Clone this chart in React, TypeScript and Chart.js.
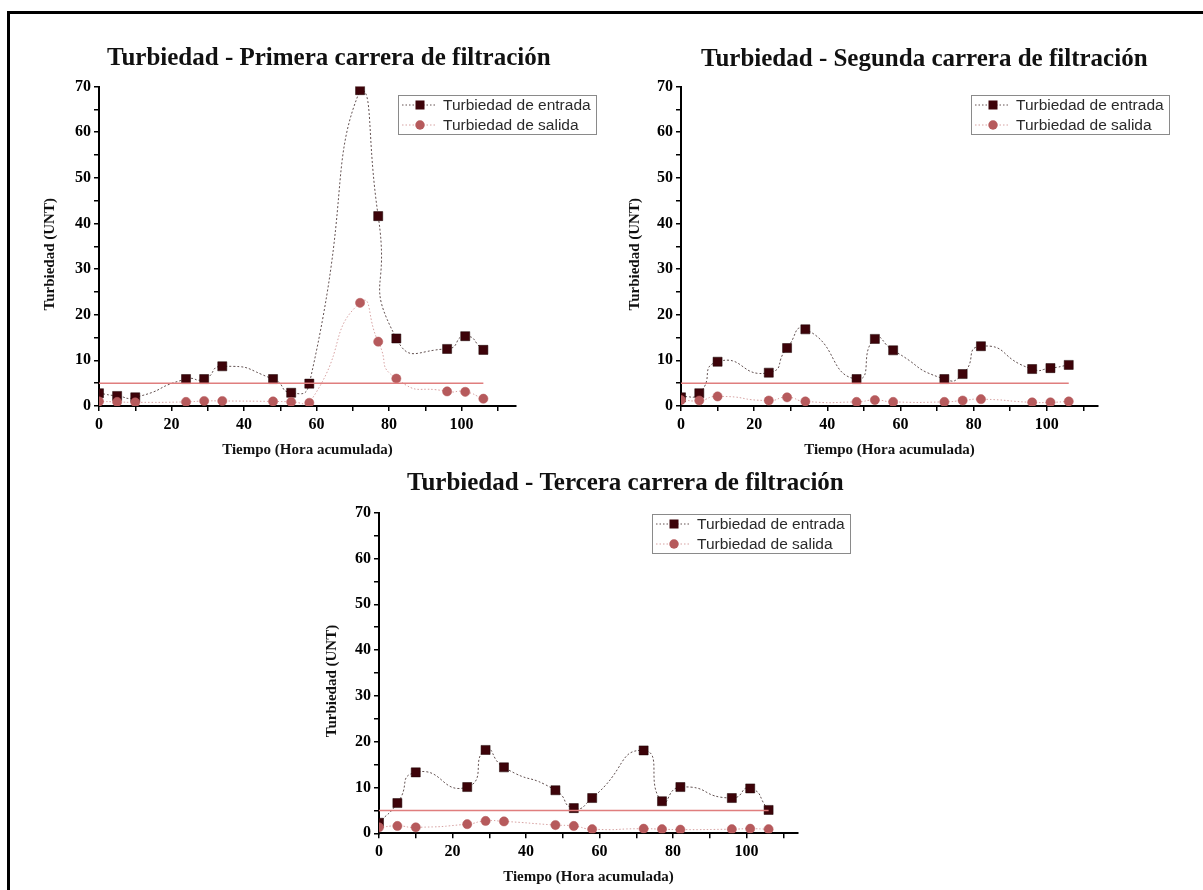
import React, { useEffect, useRef } from "react";
import { Chart, registerables } from "chart.js";

Chart.register(...registerables);

// ---- data ----
const hours = [0, 5, 10, 24, 29, 34, 48, 53, 58, 72, 77, 82, 96, 101, 106];

const run1Entrada = [2.8, 2.2, 1.9, 5.9, 5.9, 8.7, 5.9, 2.9, 4.9, 69.2, 41.6, 14.8, 12.5, 15.3, 12.3];
const run1Salida = [1.0, 0.9, 0.8, 0.9, 1.1, 1.1, 1.0, 0.9, 0.7, 22.6, 14.1, 6.0, 3.2, 3.1, 1.6];

const run2Entrada = [1.9, 2.8, 9.7, 7.3, 12.7, 16.8, 5.9, 14.7, 12.2, 5.9, 7.0, 13.1, 8.1, 8.3, 9.0];
const run2Salida = [1.3, 1.2, 2.1, 1.2, 1.9, 1.0, 0.9, 1.3, 0.9, 0.9, 1.2, 1.5, 0.8, 0.8, 1.0];

const run3Entrada = [2.3, 6.6, 13.3, 10.1, 18.2, 14.4, 9.4, 5.5, 7.7, 18.1, 7.0, 10.1, 7.7, 9.8, 5.1];
const run3Salida = [1.3, 1.6, 1.3, 2.0, 2.7, 2.6, 1.8, 1.6, 0.9, 1.0, 0.9, 0.8, 0.9, 1.0, 0.9];

const limitUNT = 5;

const chartTitles = [
  "Turbiedad - Primera carrera de filtración",
  "Turbiedad - Segunda carrera de filtración",
  "Turbiedad - Tercera carrera de filtración",
];
const legendLabels = ["Turbiedad de entrada", "Turbiedad de salida"];
const xAxisTitle = "Tiempo (Hora acumulada)";
const yAxisTitle = "Turbiedad (UNT)";

const yMin = 0;
const yMax = 70;
const yMinorStep = 5;
const yLabelStep = 10;
const xMinorStep = 10;
const xLabelStep = 20;

// ---- layout (page pixels) ----
type Layout = {
  left: number;
  top: number;
  right: number;
  bottom: number;
  xMax: number;
  titleX: number;
  titleY: number;
  yTitleX: number;
  legendX: number;
  legendY: number;
};

const layouts: Layout[] = [
  { left: 99, top: 86.5, right: 516, bottom: 406, xMax: 115, titleX: 107, titleY: 65, yTitleX: 50, legendX: 398, legendY: 95 },
  { left: 681, top: 86.5, right: 1098, bottom: 406, xMax: 114, titleX: 701, titleY: 66, yTitleX: 635, legendX: 971, legendY: 95 },
  { left: 379, top: 512.7, right: 798, bottom: 833.3, xMax: 114, titleX: 407, titleY: 490, yTitleX: 332, legendX: 652, legendY: 514 },
];

const runs = [
  { entrada: run1Entrada, salida: run1Salida },
  { entrada: run2Entrada, salida: run2Salida },
  { entrada: run3Entrada, salida: run3Salida },
];

const W = 1203;
const H = 890;
const Y_AXIS_W = 40;
const X_AXIS_H = 30;

const ENTRADA_FILL = "#3d0309";
const ENTRADA_LINE = "rgba(70,50,50,0.85)";
const SALIDA_FILL = "#b65a5c";
const SALIDA_LINE = "#d7a2a2";
const LIMIT_COLOR = "#e07e7e";
const CURVE_TENSION = 0.65;

const decorPlugin = {
  id: "decor",
  afterDraw(chart: any, _args: any, opts: any) {
    const ctx = chart.ctx as CanvasRenderingContext2D;
    const ca = chart.chartArea;
    const L: Layout = opts.layout;
    ctx.save();
    // chart title
    ctx.fillStyle = "#111";
    ctx.font = 'bold 25px "Liberation Serif", "Times New Roman", serif';
    ctx.textAlign = "left";
    ctx.textBaseline = "alphabetic";
    ctx.fillText(opts.title, L.titleX, L.titleY);
    // x-axis title
    ctx.font = 'bold 15px "Liberation Serif", "Times New Roman", serif';
    ctx.textAlign = "center";
    ctx.textBaseline = "middle";
    ctx.fillText(xAxisTitle, (ca.left + ca.right) / 2, ca.bottom + 44);
    // y-axis title
    ctx.save();
    ctx.translate(L.yTitleX, (ca.top + ca.bottom) / 2 + 8);
    ctx.rotate(-Math.PI / 2);
    ctx.fillText(yAxisTitle, 0, 0);
    ctx.restore();

    // legend
    const lx = L.legendX;
    const ly = L.legendY;
    const bw = 198;
    const bh = 39;
    ctx.fillStyle = "#fff";
    ctx.fillRect(lx, ly, bw, bh);
    ctx.strokeStyle = "#8a8a8a";
    ctx.lineWidth = 1;
    ctx.strokeRect(lx + 0.5, ly + 0.5, bw, bh);
    const items = [
      { label: legendLabels[0], line: ENTRADA_LINE, fill: ENTRADA_FILL, style: "rect" },
      { label: legendLabels[1], line: SALIDA_LINE, fill: SALIDA_FILL, style: "circle" },
    ];
    items.forEach((it, i) => {
      const cy = ly + 10 + i * 20;
      ctx.strokeStyle = it.line;
      ctx.lineWidth = 1;
      ctx.setLineDash([1.5, 2]);
      ctx.beginPath();
      ctx.moveTo(lx + 4, cy);
      ctx.lineTo(lx + 38, cy);
      ctx.stroke();
      ctx.setLineDash([]);
      ctx.fillStyle = it.fill;
      const mx = lx + 22;
      if (it.style === "rect") {
        ctx.fillRect(mx - 4.5, cy - 4.5, 9, 9);
      } else {
        ctx.beginPath();
        ctx.arc(mx, cy, 4.7, 0, Math.PI * 2);
        ctx.fill();
      }
      ctx.fillStyle = "#2a2a2a";
      ctx.font = '15.5px "Liberation Sans", Arial, sans-serif';
      ctx.textAlign = "left";
      ctx.textBaseline = "middle";
      ctx.fillText(it.label, lx + 45, cy + 1);
    });
    ctx.restore();
  },
};

function RunChart({ idx }: { idx: number }) {
  const ref = useRef<HTMLCanvasElement | null>(null);
  useEffect(() => {
    const L = layouts[idx];
    const run = runs[idx];
    const toPts = (arr: number[]) => hours.map((h, i) => ({ x: h, y: arr[i] }));
    const chart = new Chart(ref.current as HTMLCanvasElement, {
      type: "line",
      data: {
        datasets: [
          {
            label: "Límite",
            data: [
              { x: hours[0], y: limitUNT },
              { x: hours[hours.length - 1], y: limitUNT },
            ],
            borderColor: LIMIT_COLOR,
            borderWidth: 1.5,
            pointRadius: 0,
            tension: 0,
          },
          {
            label: legendLabels[1],
            data: toPts(run.salida),
            borderColor: SALIDA_LINE,
            borderWidth: 1,
            borderDash: [1.5, 2],
            tension: CURVE_TENSION,
            pointStyle: "circle",
            pointRadius: 4.6,
            pointBackgroundColor: SALIDA_FILL,
            pointBorderColor: SALIDA_FILL,
            pointBorderWidth: 0.5,
          },
          {
            label: legendLabels[0],
            data: toPts(run.entrada),
            borderColor: ENTRADA_LINE,
            borderWidth: 1,
            borderDash: [2, 2],
            tension: CURVE_TENSION,
            pointStyle: "rect",
            pointRadius: 6.4,
            pointBackgroundColor: ENTRADA_FILL,
            pointBorderColor: "#1a0000",
            pointBorderWidth: 0.5,
          },
        ],
      },
      options: {
        responsive: false,
        animation: false,
        events: [],
        layout: {
          padding: {
            left: L.left - Y_AXIS_W,
            top: L.top,
            right: W - L.right,
            bottom: H - L.bottom - X_AXIS_H,
          },
        },
        plugins: {
          legend: { display: false },
          tooltip: { enabled: false },
          title: { display: false },
          decor: { layout: L, title: chartTitles[idx] },
        } as any,
        scales: {
          x: {
            type: "linear",
            min: 0,
            max: L.xMax,
            afterFit: (s: any) => {
              s.height = X_AXIS_H;
            },
            border: { display: true, color: "#000", width: 2 },
            grid: { display: true, drawOnChartArea: false, drawTicks: true, tickLength: 5, color: "#000", lineWidth: 1.5 },
            ticks: {
              stepSize: xMinorStep,
              includeBounds: false,
              autoSkip: false,
              maxRotation: 0,
              padding: 4,
              color: "#000",
              font: { family: '"Liberation Serif", "Times New Roman", serif', size: 16, weight: "bold" },
              callback: (v: any) => (Number(v) % xLabelStep === 0 ? String(v) : ""),
            },
          },
          y: {
            type: "linear",
            min: yMin,
            max: yMax,
            afterFit: (s: any) => {
              s.width = Y_AXIS_W;
            },
            border: { display: true, color: "#000", width: 2 },
            grid: { display: true, drawOnChartArea: false, drawTicks: true, tickLength: 5, color: "#000", lineWidth: 1.5 },
            ticks: {
              stepSize: yMinorStep,
              autoSkip: false,
              padding: 3,
              color: "#000",
              font: { family: '"Liberation Serif", "Times New Roman", serif', size: 16, weight: "bold" },
              callback: (v: any) => (Number(v) % yLabelStep === 0 ? String(v) : ""),
            },
          },
        },
      },
      plugins: [decorPlugin],
    } as any);
    return () => chart.destroy();
  }, [idx]);
  return (
    <canvas
      ref={ref}
      width={W}
      height={H}
      style={{ position: "absolute", left: 0, top: 0, width: W, height: H }}
    />
  );
}

export default function App() {
  return (
    <div style={{ position: "fixed", left: 0, top: 0, width: W, height: H, background: "#fff", overflow: "hidden" }}>
      <div
        style={{
          position: "absolute",
          left: 7,
          top: 11,
          width: W + 50,
          height: H + 50,
          borderLeft: "3px solid #000",
          borderTop: "3px solid #000",
        }}
      />
      <RunChart idx={0} />
      <RunChart idx={1} />
      <RunChart idx={2} />
    </div>
  );
}
